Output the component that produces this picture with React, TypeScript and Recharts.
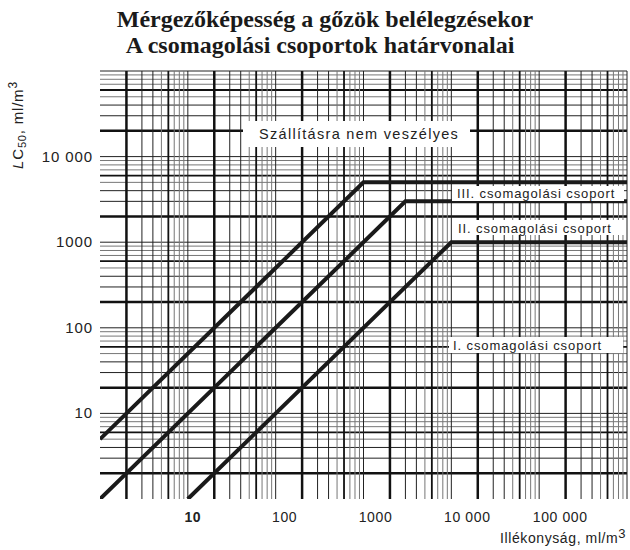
import { LineChart, Line, XAxis, YAxis, ReferenceLine } from "recharts";

// boundary lines of the packing groups (volatility vs LC50)
const groupIII = [
  { x: 1, y: 5 },
  { x: 1000, y: 5000 },
  { x: 1000000, y: 5000 },
];
const groupII = [
  { x: 1, y: 1 },
  { x: 3000, y: 3000 },
  { x: 1000000, y: 3000 },
];
const groupI = [
  { x: 10, y: 1 },
  { x: 10000, y: 1000 },
  { x: 1000000, y: 1000 },
];

const xDecades = [1, 10, 100, 1000, 10000, 100000];
const yDecades = [1, 10, 100, 1000, 10000];
const steps = [1, 2, 3, 4, 5, 6, 7, 8, 9];

const xTicks = [10, 100, 1000, 10000, 100000];
const xTickLabels = ["10", "100", "1000", "10 000", "100 000"];
const xTickShift = [5, 9, 12, 16, 21];
const yTicks = [10, 100, 1000, 10000];
const yTickLabels = ["10", "100", "1000", "10 000"];

const xGrid = xDecades
  .flatMap((d) => steps.map((s) => s * d))
  .filter((v) => v > 1)
  .concat([1000000]);
const yGrid = yDecades
  .flatMap((d) => steps.map((s) => s * d))
  .filter((v) => v > 1)
  .concat([100000]);

const stepOf = (v: number) => Math.round(v / Math.pow(10, Math.floor(Math.log10(v) + 1e-9)));

const gridStyle = (v: number) => {
  const s = stepOf(v);
  if (s === 2) return { stroke: "#111", strokeWidth: 2.5 };
  if (s === 6) return { stroke: "#111", strokeWidth: 1.8 };
  if (s === 1 || s === 3 || s === 4) return { stroke: "#222", strokeWidth: 1 };
  return { stroke: "#777", strokeWidth: 1 };
};

const sans = "'Liberation Sans', Arial, sans-serif";

const XTick = (props: any) => {
  const { x, y, payload } = props;
  const i = xTicks.indexOf(payload.value);
  return (
    <text
      x={x + (xTickShift[i] ?? 0)}
      y={y}
      dy={21}
      textAnchor="middle"
      fontFamily={sans}
      fontSize={14}
      letterSpacing={0.6}
      fontWeight={payload.value === 10 ? "bold" : "normal"}
      fill="#222"
    >
      {xTickLabels[i]}
    </text>
  );
};

const YTick = (props: any) => {
  const { y, payload } = props;
  const i = yTicks.indexOf(payload.value);
  return (
    <text
      x={93}
      y={y}
      dy={5}
      textAnchor="end"
      fontFamily={sans}
      fontSize={15}
      letterSpacing={0.9}
      fill="#222"
    >
      {yTickLabels[i]}
    </text>
  );
};

const labelStyle = {
  fontFamily: sans,
  fontSize: 13,
  letterSpacing: 0.9,
  fill: "#222",
};

export default function App() {
  return (
    <div style={{ position: "absolute", left: 0, top: 0, width: 630, height: 550, background: "#fff" }}>
      <LineChart
        width={630}
        height={550}
        margin={{ top: 71, right: 3, bottom: 0, left: 0 }}
      >
        <XAxis
          type="number"
          dataKey="x"
          scale="log"
          domain={[1, 1000000]}
          allowDataOverflow
          ticks={xTicks}
          tick={<XTick />}
          tickLine={false}
          axisLine={false}
          tickSize={0}
          height={51}
        />
        <YAxis
          type="number"
          dataKey="y"
          scale="log"
          domain={[1, 100000]}
          allowDataOverflow
          ticks={yTicks}
          tick={<YTick />}
          tickLine={false}
          axisLine={false}
          tickSize={0}
          width={100}
        />
        {yGrid.map((v) => (
          <ReferenceLine key={"h" + v} y={v} {...gridStyle(v)} ifOverflow="visible" />
        ))}
        {xGrid.map((v) => (
          <ReferenceLine key={"v" + v} x={v} {...gridStyle(v)} ifOverflow="visible" />
        ))}
        <Line data={groupIII} dataKey="y" stroke="#1a1a1a" strokeWidth={4} dot={false} isAnimationActive={false} />
        <Line data={groupII} dataKey="y" stroke="#1a1a1a" strokeWidth={4} dot={false} isAnimationActive={false} />
        <Line data={groupI} dataKey="y" stroke="#1a1a1a" strokeWidth={4} dot={false} isAnimationActive={false} />
      </LineChart>

      <svg
        width={630}
        height={550}
        style={{ position: "absolute", left: 0, top: 0, pointerEvents: "none" }}
      >
        <text
          x={325}
          y={27}
          textAnchor="middle"
          fontFamily="'Liberation Serif', 'Times New Roman', serif"
          fontWeight="bold"
          fontSize={24}
          fill="#1a1a1a"
        >
          Mérgezőképesség a gőzök belélegzésekor
        </text>
        <text
          x={320}
          y={53}
          textAnchor="middle"
          fontFamily="'Liberation Serif', 'Times New Roman', serif"
          fontWeight="bold"
          fontSize={24}
          fill="#1a1a1a"
        >
          A csomagolási csoportok határvonalai
        </text>

        <rect x={243} y={121} width={227} height={26} fill="#fff" />
        <text x={259} y={139} {...labelStyle} fontSize={14.5} letterSpacing={1.3}>
          Szállításra nem veszélyes
        </text>

        <rect x={452} y={186} width={172} height={15} fill="#fff" />
        <text x={457} y={197.5} {...labelStyle}>
          III. csomagolási csoport
        </text>

        <rect x={452} y={220} width={172} height={15} fill="#fff" />
        <text x={458} y={233} {...labelStyle}>
          II. csomagolási csoport
        </text>

        <rect x={449} y={337} width={174} height={16} fill="#fff" />
        <text x={453} y={350} {...labelStyle}>
          I. csomagolási csoport
        </text>

        <text
          transform="translate(23,125) rotate(-90)"
          x={0}
          y={0}
          textAnchor="middle"
          fontFamily={sans}
          fontSize={15}
          letterSpacing={0.8}
          fill="#222"
        >
          <tspan fontStyle="italic">L</tspan>C
          <tspan dy={3} fontSize={11}>50</tspan>
          <tspan dy={-3}>, ml/m</tspan>
          <tspan dy={-6} fontSize={12}>3</tspan>
        </text>

        <text x={500} y={543} fontFamily={sans} fontSize={14} letterSpacing={0.6} fill="#222">
          Illékonyság, ml/m
          <tspan dy={-5} fontSize={13}>3</tspan>
        </text>
      </svg>
    </div>
  );
}
